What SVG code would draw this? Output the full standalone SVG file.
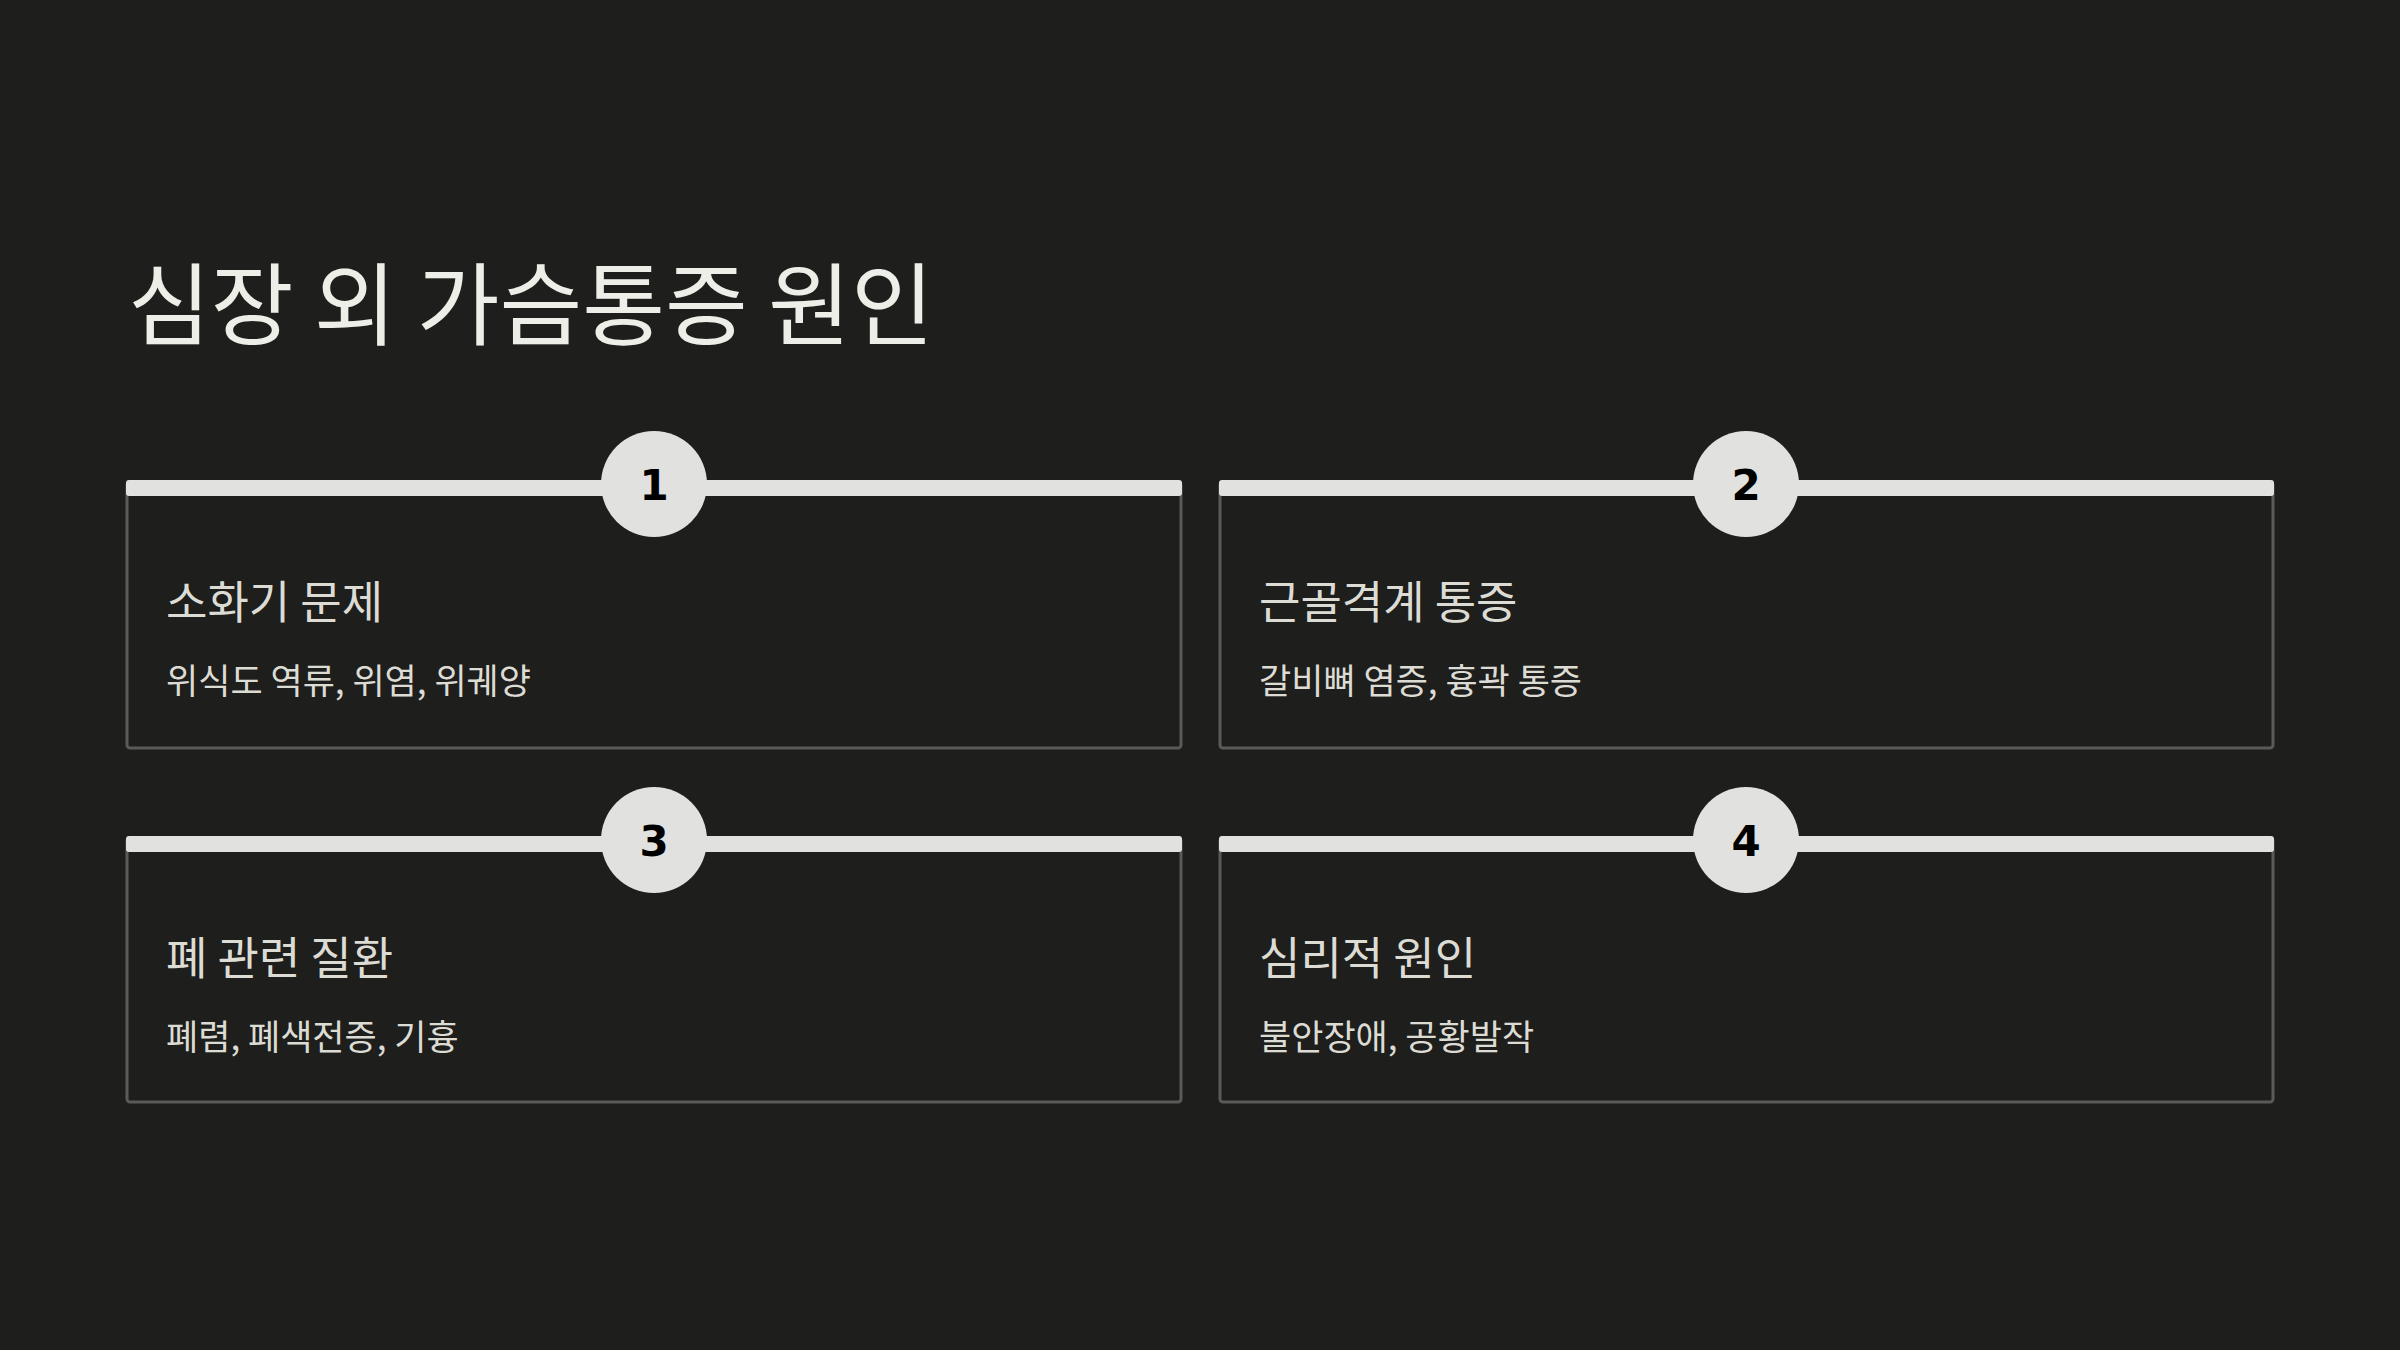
<svg xmlns="http://www.w3.org/2000/svg" width="2400" height="1350" viewBox="0 0 2400 1350">
<style>
.title{font-family:"Noto Sans CJK KR","Noto Sans",sans-serif;font-size:90px;fill:#eeeee8}
.head{font-family:"Noto Sans CJK KR","Noto Sans",sans-serif;font-size:45px;fill:#dcdcd4}
.sub{font-family:"Noto Sans CJK KR","Noto Sans",sans-serif;font-size:35px;fill:#dcdcd4}
.card{fill:#1e1e1d;stroke:#5a5a58;stroke-width:3}
.bar{fill:#e1e1df}
.badge{fill:#e1e1df}
.num{font-family:"DejaVu Sans","Liberation Sans",sans-serif;font-weight:bold;font-size:42px;fill:#000;text-anchor:middle}
</style>
<rect width="2400" height="1350" fill="#1e1e1d"/>
<text class="title" x="128" y="338">심장 외 가슴통증 원인</text>
<g id="node1">
<rect class="card" x="127" y="482" width="1054" height="266" rx="3"/>
<rect class="bar" x="126" y="480" width="1056" height="16" rx="3"/>
<circle class="badge" cx="654" cy="484" r="53"/>
<text class="num" x="654" y="500">1</text>
<text class="head" x="166" y="619">소화기 문제</text>
<text class="sub" x="166" y="694">위식도 역류, 위염, 위궤양</text>
</g>
<g id="node2">
<rect class="card" x="1220" y="482" width="1053" height="266" rx="3"/>
<rect class="bar" x="1219" y="480" width="1055" height="16" rx="3"/>
<circle class="badge" cx="1746" cy="484" r="53"/>
<text class="num" x="1746" y="500">2</text>
<text class="head" x="1259" y="619">근골격계 통증</text>
<text class="sub" x="1259" y="694">갈비뼈 염증, 흉곽 통증</text>
</g>
<g id="node3">
<rect class="card" x="127" y="838" width="1054" height="264" rx="3"/>
<rect class="bar" x="126" y="836" width="1056" height="16" rx="3"/>
<circle class="badge" cx="654" cy="840" r="53"/>
<text class="num" x="654" y="856">3</text>
<text class="head" x="166" y="975">폐 관련 질환</text>
<text class="sub" x="166" y="1050">폐렴, 폐색전증, 기흉</text>
</g>
<g id="node4">
<rect class="card" x="1220" y="838" width="1053" height="264" rx="3"/>
<rect class="bar" x="1219" y="836" width="1055" height="16" rx="3"/>
<circle class="badge" cx="1746" cy="840" r="53"/>
<text class="num" x="1746" y="856">4</text>
<text class="head" x="1259" y="975">심리적 원인</text>
<text class="sub" x="1259" y="1050">불안장애, 공황발작</text>
</g>
<g id="connectors"></g>
</svg>
